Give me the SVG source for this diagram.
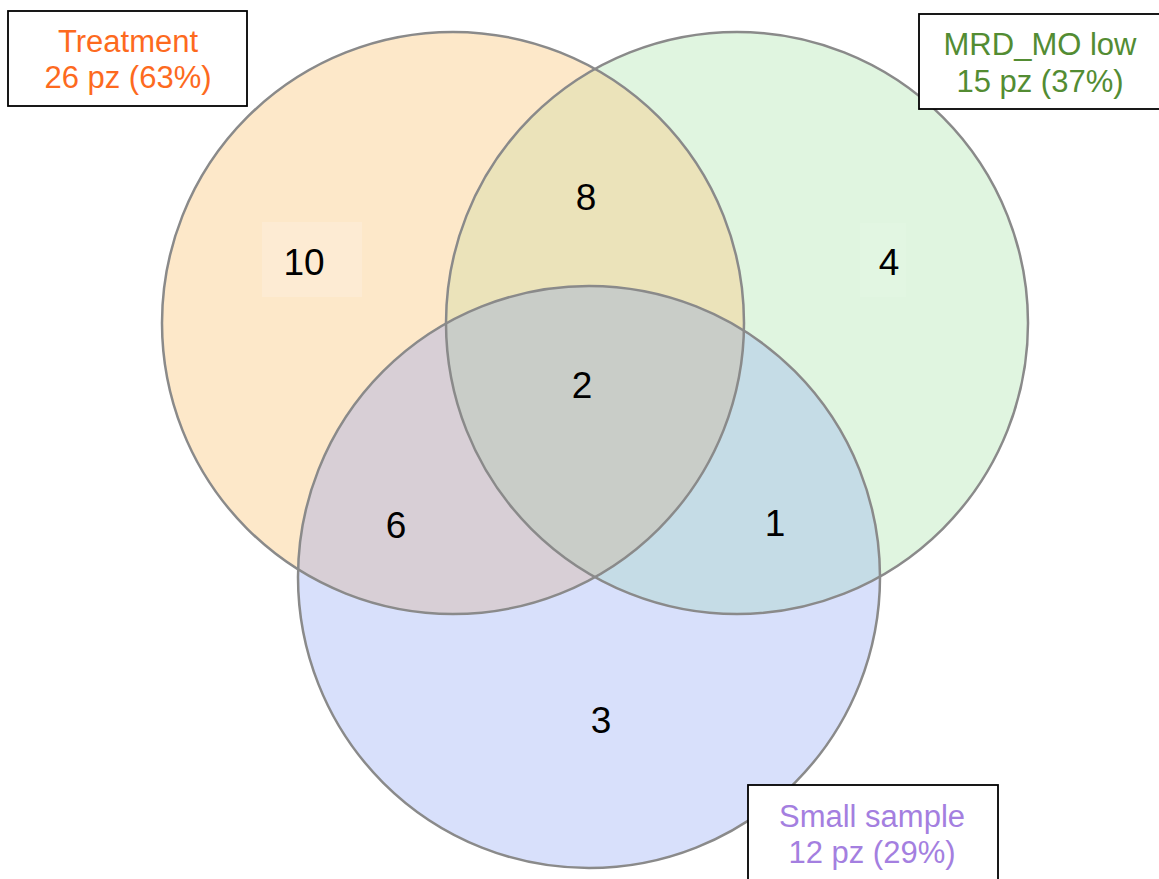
<svg xmlns="http://www.w3.org/2000/svg" width="1159" height="879" viewBox="0 0 1159 879">
<style>
.num{font-family:"Liberation Sans",Arial,sans-serif;font-size:37px;fill:#000;text-anchor:middle}
.lbl{font-family:"Liberation Sans",Arial,sans-serif;font-size:31px;text-anchor:middle}
.edge{fill:none;stroke:#8a8a8a;stroke-width:2.5}
.box{fill:#fff;stroke:#000;stroke-width:1.8}
</style>
<defs>
<clipPath id="cT"><circle cx="453" cy="323" r="291"/></clipPath>
<clipPath id="cM"><circle cx="737" cy="323" r="291"/></clipPath>
<clipPath id="cS"><circle cx="589" cy="577" r="291"/></clipPath>
</defs>
<rect width="1159" height="879" fill="#fff"/>
<g id="regions">
<circle cx="453" cy="323" r="291" fill="#fde8c9"/>
<circle cx="737" cy="323" r="291" fill="#e0f5e0"/>
<circle cx="589" cy="577" r="291" fill="#d8e0fb"/>
<g clip-path="url(#cT)"><circle cx="737" cy="323" r="291" fill="#ebe3ba"/></g>
<g clip-path="url(#cT)"><circle cx="589" cy="577" r="291" fill="#d8cfd6"/></g>
<g clip-path="url(#cM)"><circle cx="589" cy="577" r="291" fill="#c5dce6"/></g>
<g clip-path="url(#cT)"><g clip-path="url(#cM)"><circle cx="589" cy="577" r="291" fill="#c9cdc8"/></g></g>
<rect x="262" y="222" width="100" height="75" fill="#fdebd3"/>
<rect x="860" y="223" width="46" height="74" fill="#e2f6e2"/>
</g>
<g id="treatment">
<circle class="edge" cx="453" cy="323" r="291"/>
<rect class="box" x="8" y="11" width="239" height="95"/>
<text class="lbl" x="128" y="52" fill="#fd6a1e">Treatment</text>
<text class="lbl" x="128" y="88" fill="#fd6a1e">26 pz (63%)</text>
</g>
<g id="mrd">
<circle class="edge" cx="737" cy="323" r="291"/>
<rect class="box" x="919" y="14" width="250" height="95"/>
<text class="lbl" x="1040" y="55" fill="#538c33">MRD_MO low</text>
<text class="lbl" x="1040" y="92" fill="#538c33">15 pz (37%)</text>
</g>
<g id="small">
<circle class="edge" cx="589" cy="577" r="291"/>
<rect class="box" x="748" y="785" width="250" height="105"/>
<text class="lbl" x="872" y="827" fill="#a47fe0">Small sample</text>
<text class="lbl" x="872" y="863" fill="#a47fe0">12 pz (29%)</text>
</g>
<g id="counts">
<text class="num" x="304" y="275">10</text>
<text class="num" x="889" y="275">4</text>
<text class="num" x="586" y="210">8</text>
<text class="num" x="582" y="398">2</text>
<text class="num" x="396" y="538">6</text>
<text class="num" x="775" y="536">1</text>
<text class="num" x="601" y="733">3</text>
</g>
</svg>
